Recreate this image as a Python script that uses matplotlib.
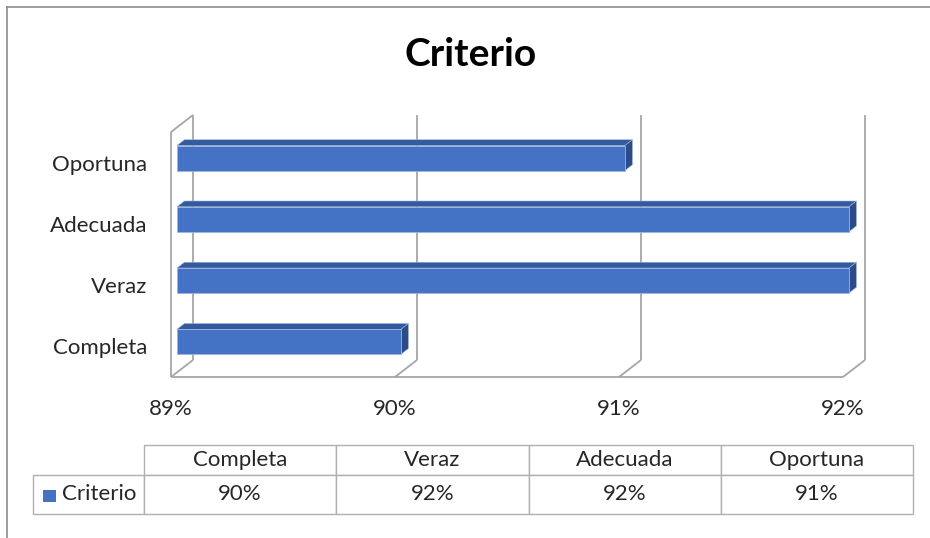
import matplotlib
matplotlib.use('Agg')
import matplotlib.pyplot as plt
from matplotlib.patches import Polygon, Rectangle
from matplotlib.table import Table
from matplotlib.lines import Line2D

# data
categories = ['Completa', 'Veraz', 'Adecuada', 'Oportuna']
values = [90, 92, 92, 91]          # percent
series_name = 'Criterio'
x_ticks = [89, 90, 91, 92]
x_min, x_max = 89, 92

plt.rcParams['font.family'] = ['Lato', 'DejaVu Sans']

W, H = 930, 538
fig = plt.figure(figsize=(W / 100, H / 100), dpi=100)

# front plane of the 3D box, in pixels
left, right, bottom, top = 171, 843, 377, 132
ax = fig.add_axes([left / W, 1 - bottom / H, (right - left) / W, (bottom - top) / H])
ax.set_xlim(x_min, x_max)
ax.set_ylim(-0.5, len(categories) - 0.5)
ax.set_facecolor('none')
for s in ax.spines.values():
    s.set_visible(False)

px_x = (right - left) / (x_max - x_min)
px_y = (bottom - top) / len(categories)
depth_px = (22, 17)   # full wall depth in pixels


def shift(x, y, d):
    return x + d * depth_px[0] / px_x, y + d * depth_px[1] / px_y


grid_col = '#a6a6a6'
glw = 1.3
y0, y1 = -0.5, len(categories) - 0.5

# walls / floor
ln = dict(color=grid_col, lw=glw, clip_on=False, zorder=1, solid_capstyle='butt')
ax.plot([x_min, x_max], [y0, y0], **ln)
ax.plot([x_min, x_min], [y0, y1], **ln)
bx, by = shift(x_min, y1, 1)
ax.plot([x_min, bx], [y1, by], **ln)
for g in x_ticks:
    bx0, by0 = shift(g, y0, 1)
    bx1, by1 = shift(g, y1, 1)
    ax.plot([bx0, bx1], [by0, by1], **ln)
    ax.plot([g, bx0], [y0, by0], **ln)

# 3D bars
bar_h = 25 / px_y
d_front, d_back = 0.27, 0.61
c_front, c_top, c_side = '#4472c4', '#335a9c', '#2b4c86'
edge = '#9fb4dc'
for i, v in enumerate(values):
    yb, yt = i - bar_h / 2, i + bar_h / 2
    fx, fy = shift(x_min, i, d_front)
    ax.barh(fy, v - x_min, height=bar_h, left=fx, color=c_front,
            edgecolor=edge, linewidth=0.6, zorder=3, clip_on=False)
    p = [shift(x_min, yt, d_front), shift(v, yt, d_front),
         shift(v, yt, d_back), shift(x_min, yt, d_back)]
    ax.add_patch(Polygon(p, closed=True, facecolor=c_top, edgecolor=edge,
                         linewidth=0.4, zorder=2, clip_on=False))
    p = [shift(v, yb, d_front), shift(v, yt, d_front),
         shift(v, yt, d_back), shift(v, yb, d_back)]
    ax.add_patch(Polygon(p, closed=True, facecolor=c_side, edgecolor=edge,
                         linewidth=0.4, zorder=2, clip_on=False))

txt_col = '#262626'
fs = 16
ax.set_yticks(range(len(categories)))
ax.set_yticklabels(categories, fontsize=fs, color=txt_col)
ax.set_xticks(x_ticks)
ax.set_xticklabels([f'{t}%' for t in x_ticks], fontsize=fs, color=txt_col)
ax.tick_params(axis='y', length=0, pad=17)
ax.tick_params(axis='x', length=0, pad=16)
for lab in ax.get_yticklabels():
    lab.set_y(lab.get_position()[1])

# title
fig.text(471 / W, 1 - 55 / H, series_name, ha='center', va='center',
         fontsize=28, fontweight='bold', color='#000000')

# data table
tx0, tx1, ty0, ty1 = 33, 913, 445, 514
tab_ax = fig.add_axes([tx0 / W, 1 - ty1 / H, (tx1 - tx0) / W, (ty1 - ty0) / H])
tab_ax.set_axis_off()
tab = Table(tab_ax, bbox=[0, 0, 1, 1])
tw = tx1 - tx0
w_lab = 111 / tw
w_col = (1 - w_lab) / len(categories)
h_head = 30 / (ty1 - ty0)
h_row = 1 - h_head
c = tab.add_cell(0, 0, w_lab, h_head, text='')
c.visible_edges = ''
for j, cat in enumerate(categories):
    tab.add_cell(0, j + 1, w_col, h_head, text=cat, loc='center')
tab.add_cell(1, 0, w_lab, h_row, text='')
for j, v in enumerate(values):
    tab.add_cell(1, j + 1, w_col, h_row, text=f'{v}%', loc='center')
tab.auto_set_font_size(False)
tab.set_fontsize(fs)
for cell in tab.get_celld().values():
    cell.set_edgecolor('#b0b0b0')
    cell.set_linewidth(1.0)
    cell.get_text().set_color(txt_col)
tab_ax.add_table(tab)

tab_ax.add_patch(Rectangle((10 / tw, 12 / 69), 13 / tw, 12 / 69,
                           facecolor=c_front, edgecolor='none',
                           transform=tab_ax.transAxes, clip_on=False))
tab_ax.text(29 / tw, 19.5 / 69, series_name, transform=tab_ax.transAxes,
            ha='left', va='center', fontsize=fs, color=txt_col)

# outer chart border
fig.add_artist(Line2D([7 / W, 7 / W], [0, 1 - 7 / H], color='#8c8c8c', lw=1.2))
fig.add_artist(Line2D([7 / W, 1], [1 - 7 / H, 1 - 7 / H], color='#8c8c8c', lw=1.2))

fig.savefig('out.png', dpi=100)
